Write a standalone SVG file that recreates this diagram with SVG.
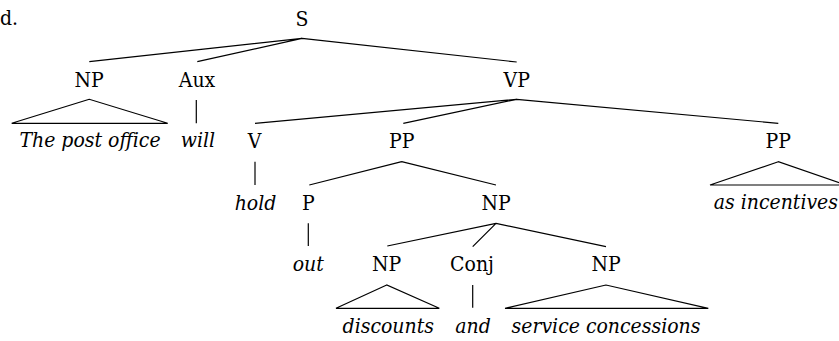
<svg xmlns="http://www.w3.org/2000/svg" width="839" height="341" viewBox="0 0 839 341">
<style>
text{font-family:"DejaVu Serif Condensed","DejaVu Serif",serif;font-stretch:condensed;font-size:21px;fill:#000;text-anchor:middle}
.w{font-style:italic}
.e{stroke:#000;stroke-width:1.2;fill:none}
</style>
<rect width="839" height="341" fill="#fff"/>
<g id="label"><text x="0" y="25" style="text-anchor:start">d.</text></g>
<g id="connectors" class="e">
<path d="M302,38.3L89.3,61.7M302,38.3L197.3,61.7M302,38.3L516.7,62"/>
<path d="M89.3,99.3L11.7,123.3H167.7Z"/>
<path d="M196.3,100V123.3"/>
<path d="M516.7,99.3L255,123.3M516.7,99.3L403.3,123.3M516.7,99.3L778.3,123.3"/>
<path d="M255,161.7V185"/>
<path d="M401.7,161.7L309.3,185M401.7,161.7L496,185"/>
<path d="M778.3,161.7L710,185H846Z"/>
<path d="M308.3,223.3V246"/>
<path d="M496,223.3L387.3,246M496,223.3L472.7,246.7M496,223.3L606,246.7"/>
<path d="M386.7,285L336,308.3H439.3Z"/>
<path d="M472.7,285V307.7"/>
<path d="M606,285L505,308.3H708.3Z"/>
</g>
<g id="S"><text x="302" y="25.5">S</text></g>
<g id="NP1"><text x="89" y="86.5">NP</text></g>
<g id="Aux"><text x="197" y="86.5">Aux</text></g>
<g id="VP"><text x="516.7" y="86.5">VP</text></g>
<g id="w-thepostoffice"><text class="w" x="90" y="147">The post office</text></g>
<g id="w-will"><text class="w" x="198" y="147">will</text></g>
<g id="V"><text x="254.5" y="147.5">V</text></g>
<g id="PP1"><text x="401.7" y="147.5">PP</text></g>
<g id="PP2"><text x="778.3" y="147.5">PP</text></g>
<g id="w-hold"><text class="w" x="255.5" y="210">hold</text></g>
<g id="P"><text x="308.3" y="210">P</text></g>
<g id="NP2"><text x="496" y="210">NP</text></g>
<g id="w-asincentives"><text class="w" x="838" y="208.5" style="text-anchor:end">as incentives</text></g>
<g id="w-out"><text class="w" x="308.3" y="270.7">out</text></g>
<g id="NP3"><text x="386.7" y="271">NP</text></g>
<g id="Conj"><text x="472" y="271">Conj</text></g>
<g id="NP4"><text x="606" y="271">NP</text></g>
<g id="w-discounts"><text class="w" x="388.3" y="333.3">discounts</text></g>
<g id="w-and"><text class="w" x="473" y="333.3">and</text></g>
<g id="w-serviceconcessions"><text class="w" x="606" y="333.3">service concessions</text></g>
</svg>
